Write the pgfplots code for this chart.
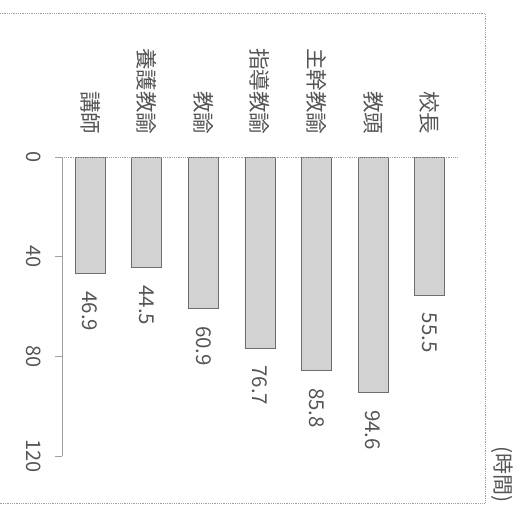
\documentclass[border=0pt]{standalone}
\usepackage{fontspec}
\setmainfont{Noto Sans CJK JP}
\usepackage{pgfplots}
\pgfplotsset{compat=1.18}
\definecolor{txt}{HTML}{555555}
\definecolor{barfill}{HTML}{D2D2D2}
\definecolor{baredge}{HTML}{6E6E6E}
\definecolor{frame}{HTML}{A0A0A0}
\begin{document}
\begin{tikzpicture}[x=1pt,y=1pt]
\useasboundingbox (0,0) rectangle (530,509);
\draw[frame, densely dotted, line width=0.8pt] (0,496) -- (485,496) -- (485,6) -- (0,6);
\node[rotate=-90, anchor=east, text=txt, font=\fontsize{21}{24}\selectfont, inner sep=0pt] at (502,6) {(時間)};
\begin{axis}[
  at={(62pt,53pt)}, anchor=south west,
  width=396pt, height=299pt, scale only axis,
  xmin=-0.5, xmax=6.5, ymin=0, ymax=120, y dir=reverse,
  clip=false,
  axis line style={draw=none},
  ybar, bar width=30pt, bar shift=0pt,
  xtick={0,1,2,3,4,5,6},
  xticklabels={講師,養護教諭,教諭,指導教諭,主幹教諭,教頭,校長},
  xticklabel pos=upper,
  major x tick style={draw=none},
  xticklabel style={rotate=-90, anchor=east, text=txt, font=\fontsize{21.5}{24}\selectfont},
  xticklabel shift=12pt,
  ytick={0,40,80,120},
  ytick pos=left,
  tick align=outside,
  major tick length=7pt,
  major y tick style={frame, line width=0.6pt},
  yticklabel style={rotate=-90, anchor=north, text=txt, font=\fontsize{20}{24}\selectfont},
  yticklabel shift=10pt,
  /pgf/number format/assume math mode=true,
  nodes near coords={\pgfmathprintnumber[fixed,fixed zerofill,precision=1]{\pgfplotspointmeta}},
  nodes near coords style={rotate=-90, anchor=west, text=txt, font=\fontsize{20.5}{24}\selectfont, inner xsep=17pt, inner ysep=0pt},
]
\addplot[fill=barfill, draw=baredge, line width=0.8pt] coordinates {
  (0,46.9) (1,44.5) (2,60.9) (3,76.7) (4,85.8) (5,94.6) (6,55.5)
};
\draw[frame, densely dotted, line width=0.8pt] (axis cs:-0.62,0) -- (axis cs:6.5,0);
\draw[frame, line width=0.6pt] (axis cs:-0.5,0) -- (axis cs:-0.5,120);
\end{axis}
\end{tikzpicture}
\end{document}
